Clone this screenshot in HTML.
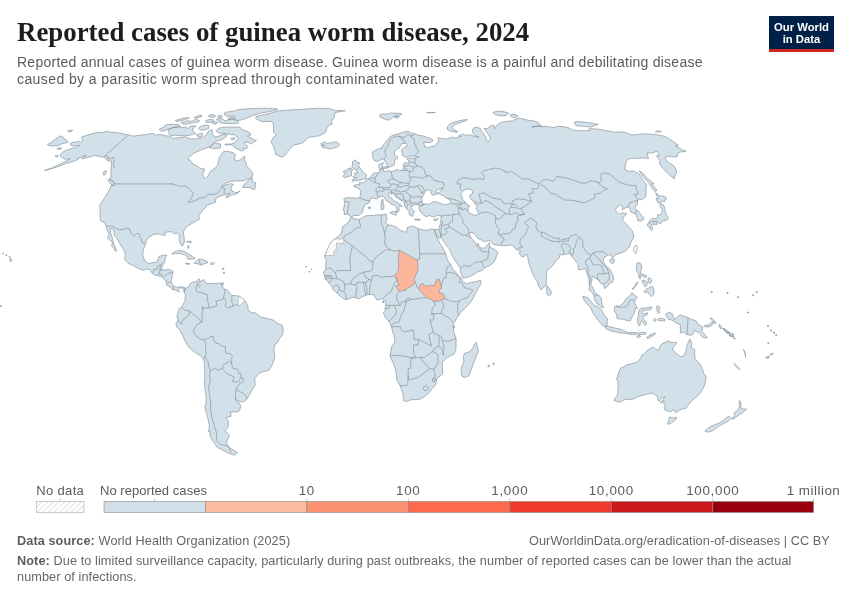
<!DOCTYPE html>
<html><head><meta charset="utf-8">
<style>
html,body{margin:0;padding:0;background:#fff;}
body{width:850px;height:600px;position:relative;overflow:hidden;font-family:"Liberation Sans",sans-serif;}
.t{position:absolute;white-space:pre;line-height:1;will-change:transform;}
#title{left:17px;top:17.3px;font:bold 26.85px "Liberation Serif",serif;color:#1d1d1d;}
.sub{left:17px;font-size:14px;color:#5b5b5b;letter-spacing:0.25px;}
.lg{font-size:13px;color:#5b5b5b;}
.ft{font-size:12.7px;color:#666;left:17px;letter-spacing:0.09px;}
.ft b{color:#5e5e5e;}
#logo{position:absolute;left:769px;top:16px;width:65px;height:36px;background:#002147;}
#logo .bar{position:absolute;left:0;bottom:0;width:65px;height:3px;background:#ce261e;}
#logo .l{position:absolute;width:65px;text-align:center;color:#fff;font:bold 11.3px "Liberation Sans",sans-serif;line-height:1;will-change:transform;}
svg{position:absolute;left:0;top:0;}
</style></head><body>
<div class="t" id="title">Reported cases of guinea worm disease, 2024</div>
<div class="t sub" style="top:54.75px">Reported annual cases of guinea worm disease. Guinea worm disease is a painful and debilitating disease</div>
<div class="t sub" style="top:72.05px;letter-spacing:0.41px">caused by a parasitic worm spread through contaminated water.</div>
<div id="logo"><div class="l" style="top:6px">Our World</div><div class="l" style="top:17.8px">in Data</div><div class="bar"></div></div>
<svg width="850" height="600" viewBox="0 0 850 600" style="z-index:1">
<defs><pattern id="mh" patternUnits="userSpaceOnUse" width="3.5" height="3.5" patternTransform="rotate(45)"><rect width="3.5" height="3.5" fill="#fff"/><line x1="0" y1="0" x2="0" y2="3.5" stroke="#d8d8d8" stroke-width="1"/></pattern></defs>
<path d="M91.5,133.8L97.4,132.4L102.3,132.3L107.5,131.2L110.2,132.3L113.8,132.3L117.9,132.9L123.3,133.8L128.5,134.9L133.6,136.2L138.8,135.3L143.5,134.9L148.7,134.0L153.6,133.4L154.9,135.1L160.6,134.5L165.9,135.8L170.3,136.4L173.4,138.4L181.0,137.5L185.2,136.6L189.9,138.9L196.7,138.9L201.0,137.7L201.3,138.4L206.3,135.1L208.7,130.8L212.1,129.7L212.5,134.0L214.9,137.3L221.6,135.1L224.1,134.0L227.1,135.5L222.6,139.5L215.0,141.8L210.9,146.3L207.5,147.5L201.4,149.8L193.6,153.3L188.4,158.1L187.9,159.7L189.9,160.0L192.9,164.1L196.0,165.3L200.0,168.2L204.8,169.0L202.8,173.9L203.9,177.7L205.5,178.4L208.5,175.2L210.3,171.4L215.6,167.7L217.5,165.3L218.6,160.5L219.6,156.9L223.7,151.4L228.2,151.4L233.0,152.6L235.6,154.5L234.1,159.3L237.0,160.9L240.4,159.7L242.1,158.1L244.8,156.2L244.7,160.5L246.0,161.7L246.4,165.3L248.2,167.7L251.6,171.4L253.2,175.2L250.3,177.9L243.4,180.9L235.4,180.9L230.2,181.4L225.5,183.2L221.1,187.0L224.9,185.0L230.4,183.7L233.7,184.4L231.3,186.7L231.2,189.0L232.0,191.0L234.7,192.3L237.7,192.6L240.2,191.0L236.3,193.9L231.7,195.1L226.3,198.0L226.5,195.4L230.2,193.3L227.0,193.6L224.6,194.6L220.5,195.9L217.0,197.7L215.2,200.0L215.9,202.3L212.4,203.4L207.0,205.2L206.4,205.7L205.6,207.8L203.0,209.8L202.4,211.4L199.8,214.2L198.7,215.0L199.4,219.2L196.6,220.7L193.0,222.8L189.9,224.6L185.7,227.5L183.4,231.7L184.0,236.9L184.5,241.5L183.0,245.4L181.4,245.7L180.2,243.1L179.1,239.5L179.4,235.8L177.3,233.0L174.1,233.7L172.0,231.9L168.8,231.7L165.3,232.4L165.0,235.6L162.4,235.0L158.3,234.0L153.8,234.3L148.5,237.6L146.0,240.8L145.7,243.6L143.8,248.6L142.7,253.0L143.4,257.2L144.9,261.1L147.6,262.9L148.6,263.7L152.8,262.6L156.3,262.4L158.0,259.5L158.9,256.4L163.4,255.1L166.7,255.1L165.1,259.0L164.2,262.9L162.7,265.5L161.3,269.9L163.8,269.9L169.5,269.4L173.1,271.7L172.1,275.9L171.5,279.8L171.3,282.4L172.8,285.0L176.1,287.6L179.6,286.8L184.1,287.1L185.4,288.4L184.0,290.2L183.1,289.2L180.7,287.6L178.5,289.7L179.3,291.8L175.5,290.2L172.5,289.4L171.0,287.6L168.1,285.5L166.6,285.3L166.5,282.4L163.0,277.4L161.3,276.7L158.6,275.9L154.3,274.8L152.4,273.3L149.2,269.4L147.2,268.9L143.2,270.2L138.6,268.6L133.4,265.5L128.2,263.4L124.9,259.5L124.6,257.7L125.4,255.1L124.8,251.9L122.1,247.0L118.9,242.1L116.9,238.4L114.2,235.6L113.9,229.8L110.7,228.3L110.5,233.0L112.3,237.4L113.7,243.4L115.6,248.0L116.9,250.6L115.7,251.4L113.4,247.8L111.6,246.0L112.6,242.3L108.7,239.2L107.4,237.4L109.2,234.3L106.7,229.0L106.3,226.4L104.7,222.5L100.7,221.0L100.1,215.8L100.2,212.7L99.9,207.5L99.5,205.9L103.3,199.8L108.9,191.0L111.0,185.5L114.3,185.7L115.0,183.9L113.5,181.4L109.6,179.4L111.0,176.2L111.0,170.2L111.4,165.3L111.4,161.2L107.9,160.9L105.2,158.1L102.7,156.9L98.6,156.4L95.1,155.4L89.8,156.9L84.8,158.1L81.5,158.8L86.4,155.2L83.0,156.4L77.8,158.5L78.5,158.8L75.6,160.6L72.1,161.8L66.0,163.5L58.5,166.5L52.0,168.5L44.4,170.5L52.5,167.8L58.5,164.7L62.1,162.9L66.8,160.6L70.3,158.8L66.8,159.1L63.8,158.8L62.1,157.6L60.6,156.5L60.3,154.7L61.5,152.9L64.4,151.2L68.5,149.4L72.6,148.2L75.6,147.6L78.5,146.5L79.7,145.4L76.2,145.6L72.6,145.9L70.6,145.3L70.4,143.5L72.6,142.4L76.2,141.8L79.7,141.5L80.9,142.4L82.6,140.9L82.1,138.8L81.5,137.1L85.6,135.6Z M185.4,288.4L188.7,286.6L190.1,283.7L192.4,282.4L195.9,281.6L199.1,278.7L200.1,280.3L199.1,282.4L202.4,280.8L203.4,279.3L206.8,283.7L211.9,283.4L216.0,283.4L220.6,283.2L222.1,285.5L223.6,288.6L227.6,290.2L231.6,295.4L236.7,295.7L239.2,296.2L243.5,299.0L245.5,300.9L248.0,306.6L248.0,309.7L251.4,312.8L254.9,312.6L260.7,317.0L267.6,318.6L273.4,320.1L278.1,323.8L282.2,325.1L283.2,329.7L282.6,334.4L279.5,338.6L276.9,343.3L274.3,345.4L274.0,350.6L274.8,357.3L273.3,362.0L270.9,367.2L268.6,370.6L263.1,371.6L258.7,373.5L254.7,378.7L255.2,385.2L252.6,389.1L250.0,394.0L248.2,396.9L246.5,399.5L243.9,401.8L241.1,401.8L237.3,400.5L235.5,399.0L236.1,401.0L239.1,402.9L240.7,405.7L239.8,410.4L237.1,411.9L230.3,411.9L231.2,416.3L225.9,417.6L228.4,421.2L228.2,426.9L224.8,431.0L229.6,435.0L226.9,440.9L226.8,444.6L228.7,446.4L228.6,447.1L237.5,452.6L234.7,455.3L228.6,453.3L219.0,448.1L216.9,446.9L212.6,440.6L209.9,435.5L210.0,430.5L208.6,432.0L209.4,425.3L208.1,419.7L206.7,413.8L204.8,407.8L206.0,403.4L206.2,396.9L205.0,389.1L204.5,383.9L204.9,376.1L204.7,370.9L204.3,363.0L203.6,358.9L200.6,356.0L194.5,352.1L189.1,347.4L185.7,342.2L182.6,335.5L179.7,329.7L176.4,326.9L176.0,323.2L178.3,319.9L176.8,316.7L178.6,309.4L179.5,308.4L181.4,307.4L184.7,301.4L185.0,300.1L185.4,294.1L183.9,292.3L184.0,290.2Z M282.3,157.3L275.7,154.5L274.3,148.6L273.0,145.2L271.0,141.8L273.4,137.3L276.6,135.1L273.6,132.7L273.5,129.7L273.4,124.5L271.5,121.5L261.6,121.5L255.7,118.5L256.0,116.6L263.6,114.8L270.9,113.0L278.5,110.9L287.4,110.1L301.7,109.3L318.7,108.1L329.3,108.5L335.5,110.5L345.4,110.8L335.0,112.5L334.3,116.7L333.8,118.8L331.7,120.0L332.1,124.2L329.2,125.0L326.7,128.3L325.8,132.5L323.3,133.8L319.2,135.8L308.3,137.5L302.6,142.9L298.8,144.0L293.2,145.2L289.0,149.8L285.7,154.5Z M216.2,130.6L219.0,128.1L224.6,127.1L232.5,127.0L240.0,127.2L242.0,129.8L246.0,131.0L250.0,133.0L250.8,135.0L247.5,136.2L251.0,138.0L255.0,140.0L256.5,140.5L253.0,142.5L250.5,144.2L248.0,142.2L245.0,142.0L244.5,143.5L247.0,145.5L247.5,147.5L245.0,149.0L243.0,148.5L243.5,150.5L241.5,151.0L237.5,149.0L235.0,148.0L233.5,146.0L231.5,145.0L228.0,144.8L225.0,145.0L225.0,144.2L228.0,144.0L231.5,144.0L233.5,143.0L236.5,141.0L238.5,138.5L235.5,135.5L234.0,134.8L225.0,133.5L221.8,133.4L217.6,132.7Z M220.5,147.9L213.8,148.6L209.3,147.5L214.2,142.9L220.4,144.0Z M242.7,187.5L249.4,187.5L253.8,189.8L256.0,187.7L255.1,185.2L255.8,182.7L252.1,181.7L252.5,177.4L248.6,180.2L243.4,185.2Z M324.3,147.7L330.3,148.9L337.7,146.8L339.6,144.7L337.6,142.4L334.8,141.8L331.2,142.7L327.6,143.4L324.4,142.0L320.6,144.0L324.6,145.6L321.1,145.6L323.0,147.7Z M171.6,254.0L173.9,251.9L178.6,250.6L183.1,250.9L187.3,253.2L192.6,256.4L195.3,258.5L192.3,259.2L187.7,259.2L188.0,257.2L184.8,255.1L179.4,253.2L176.0,253.8Z M194.3,263.1L198.4,259.2L202.4,259.2L206.8,261.1L208.0,262.6L204.3,263.7L200.9,265.2L198.5,263.9L194.3,263.4Z M185.5,263.1L189.9,263.7L188.7,264.4L186.1,263.9Z M210.7,262.9L214.3,263.1L214.0,264.2L210.6,264.2Z M113.8,185.5L111.1,184.4L107.6,179.9L109.8,179.2L113.4,181.7L114.3,184.2Z M10.4,258.2L12.1,259.8L11.8,260.8L10.0,261.8L9.8,259.8Z M67.6,131.0L70.0,130.2L72.6,130.3L71.5,131.5L68.5,131.8Z M56.8,148.5L59.0,147.6L61.8,148.2L60.5,149.4L58.0,149.3Z M55.0,156.2L56.5,155.4L58.3,155.8L57.5,157.0L55.6,157.0Z M231.0,138.5L233.0,137.8L235.5,138.3L234.0,139.8L231.5,139.5Z M103.3,172.5L105.0,170.5L106.5,171.0L105.5,174.0L103.8,175.5Z M350.5,217.9L348.4,222.5L346.6,223.6L342.8,226.4L341.6,231.7L342.0,231.9L338.8,236.3L334.3,239.2L330.8,242.8L327.5,249.3L324.8,255.3L324.7,256.9L326.3,260.3L325.8,264.2L325.6,269.4L323.3,272.8L324.8,275.9L325.0,279.0L327.7,281.1L329.5,283.7L331.8,286.3L332.9,289.2L335.6,292.0L337.2,293.3L338.4,294.6L342.5,298.0L345.7,299.7L351.7,297.7L354.0,297.2L358.4,298.7L362.8,296.6L366.0,295.1L369.5,294.4L371.1,294.4L373.6,294.6L376.6,299.8L377.3,299.8L380.5,299.3L382.3,298.3L384.0,300.6L385.6,300.6L385.8,304.5L385.1,308.4L384.9,310.5L383.3,312.8L385.4,317.5L388.6,320.9L390.4,323.5L391.5,326.9L393.1,333.1L393.6,333.9L394.9,339.6L393.9,343.8L391.8,346.1L390.1,355.2L390.1,356.0L393.6,364.3L395.9,370.6L396.8,380.0L397.0,380.2L399.9,385.4L402.9,393.0L403.4,399.5L403.5,400.5L406.7,401.6L411.2,399.7L419.1,399.5L424.3,396.9L429.4,392.5L431.9,388.8L435.3,385.2L436.9,378.7L443.0,373.5L442.8,373.2L442.4,365.6L442.1,362.5L447.1,357.6L454.3,353.9L455.9,350.0L456.1,338.3L453.6,331.8L453.6,328.7L453.0,324.0L454.7,321.7L457.3,317.0L460.1,313.6L461.2,312.1L465.8,307.1L467.6,305.8L472.6,299.3L475.9,292.8L479.2,286.3L480.9,284.0L480.8,280.3L475.6,281.6L467.6,283.4L466.5,284.0L462.5,281.1L461.2,278.5L458.1,275.1L454.5,270.7L453.3,270.4L450.7,264.2L447.8,260.3L447.5,260.0L445.6,253.8L443.3,248.8L440.0,243.4L437.9,239.5L435.4,233.2L434.4,229.6L431.5,228.8L429.2,229.8L425.0,230.4L418.7,228.8L416.0,227.5L412.6,225.7L407.4,227.5L406.4,232.2L404.1,231.9L399.6,229.8L396.6,227.0L392.2,225.4L388.4,224.9L385.5,223.1L385.3,222.8L387.3,219.4L385.9,215.3L386.9,214.5L385.2,214.2L384.3,214.0L381.8,215.0L377.2,214.7L374.0,215.5L369.7,215.3L365.4,216.0L361.9,218.1L358.5,219.7L351.8,217.6Z M434.4,229.6L438.6,229.6L439.7,225.7L440.7,222.8L440.9,218.6L441.4,215.8L439.9,215.8L437.7,215.3L433.6,217.1L429.2,215.3L427.0,216.8L423.6,215.3L421.9,213.5L420.0,210.9L419.0,208.3L419.1,206.7L421.5,205.7L424.5,204.4L424.3,204.4L420.4,205.4L418.7,205.4L417.2,204.7L414.0,204.9L412.0,206.2L411.3,205.7L411.7,205.4L411.3,207.5L412.3,209.6L414.7,211.6L414.1,212.4L413.1,213.7L412.9,216.0L411.6,216.3L410.0,215.3L408.8,212.7L409.5,211.4L407.5,210.1L406.2,208.0L404.4,205.9L404.3,202.3L402.7,201.0L401.2,200.3L397.4,198.0L395.5,196.7L393.2,194.1L392.9,193.3L391.6,194.4L391.6,192.6L388.6,193.1L388.7,195.6L391.4,197.7L393.7,201.0L397.3,202.1L398.9,204.1L401.2,205.4L402.5,206.7L399.7,205.9L398.6,207.8L399.8,209.6L397.8,212.2L396.7,212.2L396.9,208.5L396.4,207.0L394.6,205.4L393.3,204.9L390.7,203.9L388.9,202.3L386.3,200.5L385.2,199.2L384.7,197.7L382.3,195.9L379.9,196.9L378.8,197.2L376.8,199.0L374.5,198.5L372.6,198.0L369.9,199.2L369.7,200.8L370.0,202.1L367.9,203.4L365.1,204.4L363.2,208.3L362.6,208.3L363.7,210.1L362.2,211.4L361.7,213.2L359.1,215.3L358.5,215.5L353.7,215.5L351.6,217.1L350.3,216.8L349.4,215.3L347.3,214.2L344.1,214.7L344.4,210.9L343.1,210.3L344.1,207.0L344.4,204.4L344.9,203.9L344.5,201.6L343.8,199.2L345.9,197.7L348.7,197.7L351.2,197.7L355.3,198.0L359.5,198.2L360.3,195.4L360.8,192.3L360.8,191.0L358.8,188.8L357.1,187.7L354.1,186.7L353.5,185.5L357.2,184.4L360.0,185.0L359.4,182.2L360.8,182.9L363.4,182.7L366.2,180.9L366.4,179.2L369.2,178.2L371.1,176.7L372.4,174.2L374.0,172.9L376.9,172.9L379.8,172.4L379.9,170.7L378.8,167.7L378.8,164.6L383.2,162.4L382.6,165.3L382.7,166.0L382.3,168.5L383.5,170.2L383.0,170.7L384.6,171.4L386.7,170.9L389.4,170.7L391.0,171.7L394.2,170.7L397.0,169.5L399.4,170.5L401.7,170.0L402.7,169.2L403.8,167.3L403.0,164.6L403.8,163.4L405.7,162.4L408.7,164.1L408.9,160.9L406.8,158.8L409.0,158.3L415.0,158.1L418.9,157.1L416.5,156.4L411.8,155.9L409.2,156.4L405.5,157.3L402.4,155.4L402.3,153.3L401.5,151.0L401.8,149.6L404.8,147.3L407.7,145.2L405.8,143.4L402.1,143.4L401.9,143.8L400.5,146.1L399.2,147.9L396.3,149.8L394.4,151.2L394.5,153.8L394.5,155.2L397.2,156.4L397.8,158.1L396.8,158.5L394.6,160.2L394.3,162.9L394.4,164.8L392.8,166.0L390.9,166.5L388.2,168.0L387.6,166.0L385.6,162.4L384.1,159.3L383.1,158.3L382.8,159.3L380.9,159.5L378.2,161.4L374.5,160.9L373.7,159.5L372.4,156.9L373.0,155.9L372.3,153.3L372.6,151.7L374.9,150.7L377.5,149.3L380.1,148.2L381.8,148.9L382.4,146.1L384.9,143.4L386.4,140.6L387.8,140.0L389.4,137.3L390.9,136.2L394.7,134.7L398.0,134.0L401.8,132.5L405.4,131.6L409.1,131.9L412.9,133.8L414.4,133.4L418.3,135.3L423.5,136.0L431.2,138.9L433.5,140.6L430.1,142.7L423.7,142.2L424.5,146.3L428.8,147.7L431.8,146.1L434.5,146.3L437.5,142.2L439.1,141.8L437.9,137.7L441.2,138.4L445.7,139.1L452.6,137.3L455.4,138.0L460.6,136.4L458.8,135.9L463.5,134.1L465.3,135.3L469.4,134.7L474.1,136.1L478.8,137.3L475.3,135.3L472.9,132.9L472.4,130.0L474.1,127.6L477.6,127.4L480.6,128.8L481.2,130.6L483.5,133.5L485.3,136.5L486.5,139.4L487.1,141.8L488.2,142.4L489.4,140.0L490.4,138.2L488.8,135.3L487.1,132.9L485.3,130.6L484.1,128.2L487.1,128.8L490.6,125.9L494.1,125.3L494.7,128.8L495.3,127.6L498.2,124.1L500.0,122.9L501.7,122.3L506.7,121.3L512.4,120.9L514.7,119.7L518.5,118.1L522.5,118.7L527.3,120.1L533.7,120.9L537.8,122.3L542.4,126.6L537.7,126.0L531.9,127.2L537.7,126.0L542.4,126.6L546.9,126.4L553.1,127.6L557.9,126.4L563.8,126.6L568.6,127.8L573.1,130.2L578.0,130.8L582.6,130.6L589.4,130.8L588.9,128.7L598.4,129.1L607.3,130.8L613.2,132.1L618.6,131.9L625.0,132.3L631.2,134.9L635.9,134.7L641.6,134.0L645.4,133.8L653.8,134.5L660.2,135.3L665.3,136.4L668.4,138.4L671.8,140.6L675.2,142.9L678.2,145.0L677.7,145.9L675.1,145.9L682.4,149.8L686.1,151.4L680.8,151.9L677.8,153.1L677.1,156.9L668.0,156.2L664.8,157.3L667.1,161.7L674.2,166.0L676.4,170.2L676.3,173.9L674.6,175.2L674.5,178.9L669.7,175.2L662.3,167.7L659.0,162.9L660.5,161.7L656.4,155.7L659.2,155.7L657.0,151.0L653.0,152.8L647.0,153.1L648.6,158.5L641.9,157.8L637.5,158.5L631.7,158.3L628.1,159.3L626.3,161.2L625.5,165.3L624.5,169.5L629.2,171.4L633.6,170.9L639.1,173.9L641.3,177.7L646.6,185.2L645.9,189.0L645.9,196.7L641.6,199.8L638.8,199.0L637.5,201.0L637.4,204.4L635.2,207.0L635.2,209.0L638.5,211.4L643.3,217.3L643.5,219.7L640.8,221.0L638.2,221.0L637.0,217.3L635.9,214.0L632.8,212.9L630.6,211.9L629.9,208.3L627.7,207.2L625.1,208.0L623.5,209.0L622.3,210.1L622.8,208.0L622.3,205.9L619.6,204.7L617.4,207.5L614.8,209.6L617.5,212.2L619.5,214.2L622.4,212.7L626.8,213.7L623.8,216.8L623.5,217.1L622.5,220.5L627.0,224.6L629.2,227.7L632.1,230.4L633.0,233.0L633.4,233.5L633.4,237.6L632.1,240.2L630.7,243.4L629.3,247.3L628.4,247.3L625.6,251.2L620.8,253.0L619.3,253.2L615.1,255.1L613.2,257.7L612.6,258.2L611.0,255.1L608.2,254.8L605.2,256.9L604.5,256.6L603.2,261.6L605.4,265.5L609.8,269.1L612.9,275.1L613.6,277.4L613.1,281.6L608.7,284.0L607.7,286.3L604.5,288.6L603.7,285.0L602.5,283.7L600.6,283.4L598.2,279.3L594.4,278.0L594.0,276.1L592.0,276.4L592.1,279.8L590.8,284.5L593.4,288.9L594.6,292.3L598.2,294.9L598.6,295.1L601.3,298.3L601.7,303.7L603.6,307.4L601.8,307.6L599.4,305.3L596.6,303.5L594.2,298.8L594.0,295.1L589.6,289.7L589.2,290.2L589.3,285.0L589.1,279.8L586.8,273.0L585.5,268.1L581.0,269.9L578.2,269.4L577.8,263.4L575.1,260.3L572.2,257.2L571.0,255.1L570.3,253.0L567.5,253.8L564.2,254.5L559.7,255.1L559.6,257.7L556.3,260.3L554.0,263.7L550.6,267.8L546.4,270.7L546.7,276.9L546.1,281.1L546.5,284.2L544.6,286.8L542.9,288.1L541.3,289.9L538.6,286.3L538.3,285.0L536.7,280.6L534.4,277.4L532.1,272.0L530.0,266.8L528.4,261.6L527.9,257.7L527.2,255.1L526.2,254.0L523.8,256.9L521.5,256.4L518.9,253.0L521.0,251.7L517.4,249.9L515.0,248.6L513.6,246.5L512.3,244.9L507.9,245.4L502.3,245.7L501.4,245.4L497.7,245.2L493.2,244.4L491.2,241.3L488.9,240.2L485.0,241.8L480.3,239.5L477.9,238.4L476.1,236.1L476.0,235.6L473.9,233.0L471.2,232.4L469.3,233.2L469.7,234.8L471.2,238.2L473.7,240.8L475.5,242.8L476.5,246.0L477.2,246.5L477.8,243.1L478.9,245.4L479.1,247.3L481.2,248.0L484.6,248.0L485.4,247.3L487.2,245.2L488.6,243.4L489.3,242.3L489.5,245.4L490.3,247.3L494.8,249.6L498.1,252.5L496.2,256.4L496.1,257.9L494.3,261.6L491.6,264.2L489.0,266.0L486.1,266.8L482.3,270.4L477.4,272.0L475.4,273.3L471.8,275.6L466.2,277.7L462.8,278.0L461.0,273.3L460.4,270.7L460.0,267.3L457.5,264.2L451.8,255.1L449.9,249.9L447.4,246.5L444.9,243.4L441.6,238.2L440.8,234.3L440.3,237.9L439.6,238.7L437.7,236.9L435.4,233.2Z M351.8,181.2L356.3,180.7L361.2,179.7L365.8,178.7L366.6,174.7L363.6,172.9L362.7,171.4L360.2,168.2L359.2,166.5L358.3,165.5L359.7,162.9L356.7,162.4L355.8,160.2L353.9,160.2L352.4,161.9L352.6,165.3L351.4,166.5L352.9,167.7L353.8,169.2L356.5,169.5L356.8,171.4L357.4,172.9L354.3,173.2L355.2,174.4L354.8,175.7L352.8,176.9L354.9,177.7L356.9,177.9L354.3,178.9L352.9,179.2Z M351.4,175.9L351.6,171.7L352.6,170.0L351.1,168.2L348.8,168.2L346.8,169.7L346.6,170.9L343.7,171.2L343.6,172.7L345.6,173.7L342.7,176.2L344.5,177.4L347.2,176.9L349.4,176.2Z M389.9,212.7L391.7,211.6L396.7,211.4L395.8,215.5L394.1,214.7L390.3,213.2Z M381.2,209.6L383.7,209.3L384.0,204.7L382.7,203.6L380.6,204.7L381.3,207.2Z M381.4,203.1L383.1,203.4L383.1,199.5L382.7,199.2L381.3,200.8Z M414.3,219.2L420.3,219.2L420.0,219.9L417.2,220.2L414.5,219.4Z M433.4,219.9L435.1,221.0L437.2,220.2L438.2,218.1L436.0,219.2L434.6,218.9Z M384.4,168.2L387.2,168.2L387.3,166.5L385.2,166.5L384.1,167.3Z M382.1,168.5L384.0,168.7L383.5,167.5L382.2,167.7Z M546.9,285.5L548.3,287.6L550.0,289.2L551.3,291.8L551.2,293.8L549.8,295.1L548.5,295.7L547.3,294.9L546.8,292.8L546.6,290.2L546.7,287.6Z M47.5,144.6L51.0,142.5L55.0,139.4L57.9,137.6L60.9,135.9L62.6,136.5L63.8,138.8L66.8,140.3L68.2,141.8L67.4,142.6L63.8,143.2L61.5,143.8L58.5,145.3L56.2,145.9L52.0,146.0L48.5,145.5Z M476.2,342.2L477.9,348.7L478.1,352.1L476.6,355.2L475.2,359.1L473.0,364.3L470.3,372.2L468.9,375.8L464.3,377.6L461.9,376.1L460.9,369.6L462.2,365.6L463.9,361.7L463.3,356.5L464.6,353.2L469.3,351.9L472.7,348.2L475.0,343.5Z M690.0,338.9L691.8,343.5L691.2,347.4L694.9,350.0L694.6,353.9L694.9,359.1L697.6,361.5L700.3,364.3L702.5,369.6L703.8,373.5L706.3,377.4L704.6,385.4L701.0,391.7L697.9,395.6L693.6,399.0L687.7,405.5L685.8,408.6L681.0,409.3L675.7,412.7L674.2,409.6L670.2,411.9L664.7,409.9L664.0,407.8L665.4,404.7L663.5,403.6L664.0,400.3L661.8,402.6L660.2,402.9L665.1,396.9L661.9,397.7L658.8,401.6L658.0,400.0L657.4,396.4L652.2,393.0L644.4,394.8L637.0,396.9L632.8,399.2L625.1,399.5L619.2,402.3L614.0,400.5L614.7,398.2L616.8,396.4L617.9,393.2L617.8,389.1L618.3,386.5L617.7,381.3L616.5,379.2L618.1,374.8L619.3,370.9L620.8,367.7L621.9,367.7L627.2,364.6L631.7,363.8L637.5,361.7L641.1,357.8L641.5,355.2L644.5,353.9L646.9,350.6L650.6,348.2L653.5,346.9L655.9,349.8L659.1,349.8L660.1,346.1L662.5,343.3L666.7,342.2L667.1,340.7L672.4,342.8L675.9,342.0L676.9,343.3L673.8,346.1L672.6,349.5L675.1,352.4L678.1,354.7L680.0,356.5L683.4,356.5L686.4,350.0L686.8,346.1L688.3,342.2Z M669.6,416.9L672.7,417.9L676.9,417.4L674.7,420.7L670.8,423.3L669.1,424.3L667.6,424.1L668.4,420.7Z M739.5,400.5L741.3,403.4L740.7,406.8L741.5,408.8L745.4,409.1L746.7,409.1L742.7,413.0L739.7,414.3L734.4,418.4L732.1,419.2L731.7,418.4L734.9,415.8L734.4,414.8L734.0,413.0L737.8,409.9L739.3,407.3L739.1,403.4Z M729.2,416.3L731.1,418.4L728.4,421.0L723.8,423.5L718.2,426.4L713.8,430.2L708.8,432.2L704.8,431.0L707.7,428.4L713.2,425.3L719.7,422.8L724.4,419.4L727.4,417.1Z M648.9,222.5L650.9,221.8L654.6,221.2L657.1,221.0L658.4,222.8L660.6,223.8L661.6,221.8L662.6,221.0L665.3,220.7L665.5,219.4L667.3,219.9L668.4,218.1L666.4,215.0L665.3,211.4L664.6,208.3L664.0,205.7L661.3,203.4L659.7,203.9L660.7,207.0L662.2,209.6L661.9,212.2L661.3,214.0L659.4,215.3L657.7,214.0L657.6,217.3L655.9,218.4L651.7,218.6L649.5,221.0Z M658.4,203.1L660.4,202.3L662.3,201.0L664.5,201.8L665.3,199.2L666.9,198.5L664.4,196.4L659.7,195.6L655.5,192.8L656.7,195.4L658.3,198.7L656.0,198.5L656.7,200.5Z M647.0,224.4L648.8,222.8L651.2,223.8L652.7,229.3L651.6,230.4L650.0,229.0L648.9,226.4L647.3,225.7Z M653.2,225.1L654.7,224.4L657.1,224.4L656.9,222.5L654.1,221.5L652.6,222.5Z M654.9,191.6L657.0,190.3L651.7,183.9L654.2,183.9L646.7,177.7L642.8,173.2L639.1,170.7L640.4,172.7L642.6,176.4L648.8,182.7L650.8,186.5Z M633.7,251.2L635.9,254.0L636.9,249.9L636.9,246.0L635.6,245.2L634.1,247.3Z M609.5,261.1L611.9,263.7L614.0,262.4L614.8,260.0L613.6,258.7L610.7,259.0Z M637.1,262.9L640.0,262.9L641.7,265.8L641.2,269.2L640.4,271.7L641.2,273.8L644.2,274.6L646.7,275.8L646.2,277.5L643.8,276.7L641.2,275.4L639.6,275.0L637.9,272.9L636.7,270.8L636.2,267.5L636.7,265.0Z M643.8,291.7L645.8,289.6L648.3,288.3L651.2,286.2L653.3,287.5L654.2,291.7L653.3,295.0L651.2,296.7L649.2,294.2L647.1,291.7L645.0,292.9Z M642.1,280.0L645.0,280.4L647.5,282.5L646.7,285.4L645.0,287.1L644.2,284.6L642.5,282.5Z M632.1,289.2L634.2,286.7L636.7,282.5L637.5,281.7L637.1,283.8L635.0,287.1L632.9,289.6Z M582.6,296.4L587.7,297.5L590.6,301.1L594.8,305.8L597.2,306.3L601.8,309.7L604.1,314.9L607.5,318.8L606.9,326.1L603.7,326.4L598.9,321.4L596.0,317.5L592.6,312.3L590.3,307.1L587.4,304.5L584.3,300.6Z M605.2,326.2L610.0,326.8L615.3,328.1L620.6,329.2L624.8,331.3L628.7,332.6L628.3,333.8L622.7,333.2L617.4,332.2L612.1,331.2L607.0,329.5L605.5,328.0Z M614.5,307.1L615.8,305.8L619.1,306.6L623.6,302.7L625.7,299.0L629.1,296.7L631.9,292.8L634.0,294.6L637.6,297.5L635.4,299.3L634.6,303.2L637.5,308.4L635.2,308.4L634.1,313.6L631.7,317.5L630.4,320.9L627.0,320.6L623.6,319.3L619.0,318.8L617.1,318.6L616.8,314.9L614.5,311.0Z M640.7,308.5L645.0,308.0L651.8,306.9L650.8,309.6L646.0,310.1L642.3,311.2L641.8,312.8L643.9,313.8L647.6,312.8L647.1,314.9L643.4,316.0L642.8,318.1L645.0,320.7L646.5,323.4L645.5,325.5L643.9,323.9L641.8,320.7L640.7,321.8L640.2,325.0L638.6,325.5L637.5,321.8L638.1,316.5L638.6,312.2L639.7,309.6Z M665.2,314.7L668.7,312.1L672.1,313.4L674.2,319.6L680.2,314.9L687.0,317.3L691.5,319.3L696.1,320.9L698.8,325.1L702.9,326.9L701.8,331.3L704.8,334.4L707.4,337.8L702.8,337.5L698.7,332.3L694.3,330.8L692.8,334.4L690.4,335.2L687.0,334.7L683.8,332.1L680.3,332.9L680.4,324.8L675.3,322.5L671.9,320.1L668.5,319.3L665.9,315.2Z M704.6,325.6L708.5,324.8L712.1,321.9L714.0,322.2L711.9,325.3L708.4,327.1L704.5,326.6Z M656.6,306.5L658.5,305.9L660.3,308.0L658.8,309.5L659.8,312.5L658.2,313.3L657.0,310.5Z M646.5,337.5L650.0,335.2L654.0,333.0L655.6,333.5L653.0,335.6L649.5,337.8L647.0,338.3Z M638.2,333.0L642.0,332.4L646.0,332.6L645.5,334.2L641.0,334.6L638.2,334.3Z M636.8,336.0L639.0,335.5L640.7,336.3L639.5,337.6L637.2,337.2Z M629.0,332.8L633.0,332.4L637.0,332.8L636.5,334.3L632.0,334.5L629.0,334.0Z M658.2,318.8L661.0,318.1L665.1,319.5L664.5,321.0L661.0,320.5L658.5,320.5Z M723.2,328.2L730.4,332.9L733.9,336.5L731.6,336.5L725.2,331.8Z M734.5,363.6L739.9,368.8L738.7,369.3L734.8,365.1Z M766.3,356.8L769.3,356.5L768.4,358.4L766.0,358.1Z M743.4,349.5L745.4,353.9L745.5,357.3L745.0,352.6Z M467.1,119.4L462.4,120.0L455.3,121.8L450.6,123.5L447.6,126.5L447.1,129.4L450.6,131.2L457.1,132.4L457.6,131.2L453.2,129.6L452.2,127.3L454.3,124.9L460.0,122.6L466.5,120.6Z M379.4,116.6L384.2,118.9L388.2,120.3L391.6,118.5L394.0,116.4L402.0,114.3L401.0,113.4L391.6,113.0L387.6,113.9L380.5,114.3Z M492.9,112.5L497.0,111.2L503.0,111.5L508.8,113.2L506.0,115.5L500.0,115.9L495.0,114.5Z M510.0,115.0L513.0,114.1L518.2,115.6L516.0,117.6L511.5,117.0Z M575.8,125.6L585.2,126.6L591.3,127.0L598.2,124.3L588.5,122.7L578.8,121.5L574.4,122.1Z M655.4,131.9L656.9,130.8L661.2,131.4L658.2,132.1Z M426.7,112.7L430.3,112.3L435.3,112.4L432.1,112.9Z M710.3,317.8L712.3,318.6L714.5,320.9L716.0,323.0L715.3,323.8L713.3,321.9L711.1,319.6Z M719.1,324.5L720.7,325.6L721.9,327.9L721.1,329.0L719.6,327.4Z M723.2,328.2L725.6,330.0L725.1,330.5L722.9,329.0Z M726.9,331.6L730.4,333.1L729.9,333.6L726.6,332.1Z M729.7,335.2L732.3,336.2L731.8,336.8L729.6,336.0Z M732.2,332.9L734.1,335.2L733.5,335.7L731.9,333.6Z M733.3,337.5L735.5,338.6L735.2,339.1L733.2,338.3Z M769.6,354.7L771.6,353.7L773.4,353.2L772.9,353.9L770.6,355.0Z M9.0,256.6L10.5,256.9L9.9,257.4L9.1,257.2Z M5.8,254.8L7.1,254.8L6.9,255.6L5.8,255.6Z M2.8,253.2L3.9,253.2L3.5,254.0L2.8,254.0Z M305.7,266.5L306.6,266.5L306.6,267.0L305.7,267.0Z M308.9,271.2L309.6,271.2L309.6,272.2L308.9,272.2Z M311.1,268.9L311.5,268.9L311.5,269.6L311.0,269.6Z M187.9,245.7L189.0,245.7L188.6,248.3L187.7,248.3Z M186.7,241.5L189.4,241.5L189.3,242.1L186.7,242.1Z M190.2,240.8L191.2,241.8L190.7,243.4L190.1,242.6Z M221.3,282.9L223.4,282.9L223.3,284.7L221.2,284.7Z M493.0,363.0L494.1,363.0L494.0,364.3L492.9,364.3Z M488.0,365.4L489.4,365.4L489.3,366.7L487.9,366.7Z M222.5,268.1L223.9,268.1L223.8,269.4L222.4,269.4Z M223.5,272.2L224.5,272.2L224.4,273.5L223.4,273.5Z M368.1,207.2L370.7,207.2L370.3,208.8L368.4,208.3Z M453.5,325.8L454.4,325.8L454.3,327.9L453.4,327.9Z M382.6,301.1L383.7,301.1L383.7,302.7L382.6,302.7Z M638.3,275.8L640.0,275.4L640.8,277.1L640.4,278.8L639.2,278.3Z M647.9,278.3L650.0,277.9L651.5,280.0L651.2,282.5L649.6,283.8L648.3,281.7Z M653.4,319.5L655.5,318.6L656.6,319.8L655.5,321.3L653.8,321.0Z M394.1,116.5L396.5,116.2L399.4,116.8L397.5,118.0L395.0,117.8Z M0.2,305.6L1.4,305.6L1.4,306.6L0.2,306.6Z M711.1,291.3L712.3,291.3L712.3,292.3L711.1,292.3Z M726.9,292.5L728.1,292.5L728.1,293.5L726.9,293.5Z M737.4,296.7L738.6,296.7L738.6,297.7L737.4,297.7Z M756.1,291.7L757.3,291.7L757.3,292.7L756.1,292.7Z M752.4,294.7L753.6,294.7L753.6,295.7L752.4,295.7Z M747.6,312.0L748.8,312.0L748.8,313.0L747.6,313.0Z M767.4,325.5L768.6,325.5L768.6,326.5L767.4,326.5Z M770.4,330.0L771.6,330.0L771.6,331.0L770.4,331.0Z M773.4,332.2L774.6,332.2L774.6,333.2L773.4,333.2Z M775.6,334.5L776.8,334.5L776.8,335.5L775.6,335.5Z M767.7,342.7L768.9,342.7L768.9,343.7L767.7,343.7Z M159.1,129.4L162.6,127.6L166.8,124.6L172.6,124.2L178.5,124.6L180.3,126.1L177.9,127.0L172.6,127.6L169.1,129.1L165.6,130.2L161.5,131.4Z M168.5,129.1L172.6,127.8L178.5,126.7L182.6,127.4L185.6,127.0L187.9,128.8L189.7,126.7L192.1,125.8L196.2,126.1L193.2,127.9L192.6,130.8L195.6,133.2L192.6,134.6L187.9,135.5L184.4,135.2L179.7,135.8L175.6,135.2L170.3,135.5L169.1,134.4L168.8,131.4Z M175.3,120.5L179.7,119.1L184.4,117.9L189.1,117.6L188.5,118.5L184.4,119.6L180.3,120.8L176.8,121.4Z M180.9,122.6L184.4,121.4L187.9,120.8L191.5,121.4L193.8,120.2L196.2,119.4L199.7,120.8L198.5,122.0L193.8,122.6L190.3,123.2L185.6,124.4L182.6,123.8Z M194.1,117.6L197.4,116.1L201.5,115.2L201.8,116.4L198.5,117.6L195.6,118.2Z M198.5,127.9L201.5,126.1L205.0,125.2L208.8,125.5L208.5,128.5L205.0,129.7L202.1,130.2L199.7,129.6Z M196.2,134.9L199.7,133.8L202.1,133.2L203.2,134.9L201.5,136.7L198.5,137.3Z M208.2,116.2L210.0,114.7L213.5,115.0L215.6,115.9L214.1,117.4L210.6,117.1Z M217.4,116.5L218.8,115.5L221.5,115.6L222.6,117.1L220.6,117.6L218.2,117.4Z M205.3,121.5L207.1,120.0L210.6,119.4L213.8,120.0L213.2,121.5L210.6,122.4L207.1,122.6Z M212.1,122.6L214.1,121.8L217.1,122.1L217.6,123.0L215.9,124.1L213.2,123.8Z M216.2,119.4L219.4,118.5L223.5,119.4L224.7,120.9L227.6,120.3L230.6,119.1L234.1,118.2L235.3,119.1L237.6,120.9L238.8,122.6L236.5,123.5L231.8,123.7L227.1,123.5L222.4,123.2L219.4,122.6L220.0,121.5L217.6,120.4Z M224.1,113.5L226.5,112.1L230.6,111.4L235.3,110.9L236.5,110.0L241.2,109.4L247.1,108.8L255.0,108.4L265.0,108.2L272.0,108.4L277.5,108.9L277.4,109.7L269.8,111.5L260.6,113.2L253.0,115.5L247.1,117.9L244.1,119.1L241.2,120.0L237.6,120.4L234.1,119.7L230.6,119.4L227.6,119.1L229.4,117.9L232.9,117.4L235.3,116.8L234.7,115.9L230.6,116.2L226.5,116.2L224.7,115.0Z" fill="#d2e0e9" stroke="#7d8891" stroke-width="0.6" stroke-linejoin="round"/>
<path d="M422.4,203.9L424.7,203.9L429.4,204.1L433.2,201.8L437.0,201.8L440.9,203.6L444.4,204.7L447.8,204.4L450.9,202.8L450.4,200.3L446.7,198.2L443.1,195.6L440.4,194.6L438.8,193.6L436.4,194.1L432.7,195.4L430.4,193.1L432.2,191.3L428.1,190.0L426.1,190.3L424.5,193.3L422.8,195.9L421.7,198.5L421.9,201.6Z M435.3,192.6L438.7,193.1L441.0,190.3L443.1,188.5L439.8,189.0L435.6,190.8Z M463.6,190.3L467.3,189.0L471.5,189.5L473.0,193.3L469.5,195.4L470.6,198.7L474.2,201.8L475.1,204.4L477.4,205.4L476.2,208.5L479.2,214.0L475.0,215.5L470.8,213.7L468.4,212.2L468.0,211.1L468.3,206.5L469.9,206.2L467.2,204.4L465.5,202.3L462.5,199.2L461.7,195.4L460.5,194.6Z M197.8,285.0L199.0,284.2L200.0,285.5L199.6,287.1L198.2,286.8Z" fill="#fff" stroke="#7d8891" stroke-width="0.6"/>
<path d="M399.2,250.0L417.6,260.3L418.0,270.2L415.6,275.4L414.3,278.2L414.8,282.4L415.7,282.6L413.0,285.0L409.2,287.6L406.7,288.1L406.0,290.2L402.3,290.5L398.9,291.5L398.2,289.4L395.4,286.3L399.3,285.0L397.6,282.9L397.6,279.8L396.4,277.4L395.7,276.9L394.3,275.4L397.5,272.0L398.5,268.1L398.3,259.0L399.2,250.0Z" fill="#fcb69c" stroke="#7d8891" stroke-width="0.6"/>
<path d="M418.4,288.4L420.8,284.2L422.9,283.7L425.2,286.0L429.8,285.8L431.2,284.7L432.1,285.3L434.4,285.5L436.5,280.0L437.7,279.3L439.3,279.3L441.0,285.0L441.5,286.3L441.3,288.6L439.1,290.2L439.6,292.8L443.1,293.8L444.5,297.2L445.9,299.0L442.4,299.0L441.3,300.1L439.3,301.4L434.6,301.1L434.0,301.6L431.2,299.6L428.9,298.8L426.5,297.5L425.4,296.4L423.1,294.1L419.5,290.2Z" fill="#fcb69c" stroke="#7d8891" stroke-width="0.6"/>
<path d="M128.5,134.9L104.4,156.2L107.9,156.2L107.7,159.3L113.3,157.3L114.0,160.7L113.0,165.1L114.9,166.8L113.6,168.2 M115.0,183.9L171.4,183.9L172.0,182.9L172.0,184.4L175.4,185.0L179.8,186.2L181.7,186.5L185.1,185.7L189.8,189.0L190.2,190.3L191.8,191.6L193.3,193.3L190.8,199.2L188.8,201.0L188.5,202.6L194.4,200.8L198.0,199.5L198.6,198.0L204.3,197.7L208.2,194.4L215.5,194.1L218.2,192.3L220.1,189.8L222.4,188.0L224.1,188.2L224.9,188.8L223.7,192.3L224.8,194.1L224.9,194.6 M106.3,226.4L111.7,225.9L118.4,229.6L124.8,229.6L125.2,228.3L129.0,228.3L131.7,234.0L134.4,235.6L136.5,233.5L138.7,233.5L140.1,237.4L141.4,239.5L141.7,242.3L145.7,243.6 M152.7,273.3L153.1,271.7L154.3,269.1L157.2,269.1L157.6,266.0L160.6,264.7L162.8,262.9 M160.6,264.7L159.9,269.6L162.1,270.2 M159.9,269.6L159.5,273.0L159.0,273.5L157.3,275.4 M159.0,273.5L162.1,274.8L162.4,276.1 M163.5,277.2L166.7,274.8L169.1,273.0L173.3,272.0 M166.8,282.1L170.6,282.6L171.3,282.6 M172.7,290.2L173.6,286.0 M184.1,292.3L185.4,288.4 M198.8,259.2L200.3,264.2 M197.7,281.9L196.9,285.0L195.8,287.6L196.8,291.8L202.0,292.8L207.9,294.9L207.1,299.3L208.2,302.7L208.8,306.3L209.0,307.9 M209.0,307.9L203.0,308.1L202.1,306.6L203.0,312.3L201.9,313.6L202.3,321.9 M202.3,321.9L200.4,320.9L197.3,317.3L193.6,314.4L189.9,311.3 M189.9,311.3L184.8,310.0L181.6,307.4 M189.9,311.3L189.2,314.9L185.8,317.5L182.9,319.9L181.4,324.0L178.8,322.2L178.3,319.9 M209.0,307.9L215.5,306.3L217.1,305.3L215.8,300.9L218.6,300.6L222.8,299.3L223.5,297.5 M223.5,297.5L225.4,288.9 M223.5,297.5L225.5,299.3L225.9,302.4L225.2,306.1L227.7,307.9L233.0,306.1 M233.0,306.1L231.9,301.9L231.8,295.7 M233.0,306.1L236.5,304.5L238.6,305.5 M202.3,321.9L197.5,324.0L195.3,327.9L193.1,330.5L195.7,335.7L197.6,337.0L201.4,339.6L203.7,339.5 M203.7,339.5L206.0,343.5L205.7,346.1L205.6,350.6L206.1,353.4L205.2,356.5 M205.2,356.5L203.4,358.8 M205.2,356.5L206.7,360.4L208.2,361.7L208.4,365.4L210.2,370.3L211.8,370.3 M211.8,370.3L214.3,368.3L218.4,370.3L221.5,368.3L222.0,368.8 M222.0,368.8L224.1,364.3L229.5,361.2L231.4,362.5L231.6,363.5 M231.6,363.5L231.7,358.1L232.5,356.5L230.2,353.4L226.1,353.4L225.2,350.3L225.4,346.7L221.7,346.1L219.0,343.8L215.8,343.3L213.5,339.6L213.4,336.5L210.4,336.8L207.3,338.9L203.7,339.5 M231.6,363.5L232.8,368.5L236.9,369.0L237.9,369.8L238.7,373.5L241.2,373.7L240.9,377.6 M222.0,368.8L226.1,372.9L230.8,375.5L234.1,376.8L232.5,381.8L238.3,382.0L240.9,377.6 M240.9,377.6L242.8,377.9L243.4,379.4L243.2,381.5L239.0,384.1L235.8,389.6 M235.8,389.6L239.7,391.4L241.6,392.5L246.1,395.8L246.6,398.7 M235.8,389.6L235.5,395.6L235.8,399.2 M210.2,370.3L209.4,374.8L210.5,381.3L208.5,386.5L209.4,394.3L210.3,399.5L210.7,404.7L210.7,409.9L211.9,417.6L214.2,425.3L216.2,431.7L216.7,436.8L216.6,440.6L220.1,444.4L226.2,445.6L228.6,447.1L231.1,452.8 M359.3,219.7L359.5,222.5L361.0,226.4L355.3,228.8L352.2,231.7L343.9,236.3L343.9,239.0 M343.9,240.0L352.4,246.0 M352.4,246.0L349.7,259.0L350.7,270.7L337.2,270.4L335.4,272.8 M352.4,246.0L365.7,256.4L370.5,261.6L372.8,261.1 M372.8,261.1L376.8,256.4L385.7,249.9L390.2,249.8 M390.2,249.8L385.7,246.0L384.5,242.1L385.3,238.2L384.5,233.0L385.8,231.7 M384.5,232.4L383.0,227.7L381.1,222.5L381.2,218.6L381.8,215.0 M384.5,232.4L385.7,229.0L388.4,224.9 M390.2,249.8L394.8,251.4L399.2,250.0 M417.6,260.3L417.6,259.0L419.8,259.0L419.7,253.8 M419.7,253.8L418.6,233.0L418.1,228.8 M419.7,253.8L446.5,253.8 M415.7,282.6L417.2,287.6L418.4,288.4 M441.5,286.3L441.9,283.4L443.6,278.2L445.9,278.0L446.6,273.8L446.4,273.5 M446.4,273.5L446.5,269.9L447.4,266.8L450.9,264.2 M446.4,273.5L449.8,272.2L452.3,273.0L454.8,273.3L458.9,277.2L460.3,278.5 M459.1,282.4L460.3,278.5 M461.6,282.4L459.1,282.4 M461.6,282.4L464.3,287.6L473.3,290.2L466.8,298.0L462.3,299.3L459.7,300.9 M459.7,300.9L455.4,301.6L452.2,301.6L446.1,299.3L445.9,299.0 M459.7,300.9L457.7,303.7L457.7,313.4L459.1,315.4 M441.5,300.1L442.5,301.9L443.9,306.8L441.6,311.0L441.6,313.6 M441.6,313.6L450.1,318.8L453.5,323.2 M434.0,301.6L435.4,305.3L432.4,307.6L431.9,311.0L431.5,314.7 M431.5,313.6L441.6,313.6 M431.5,314.7L433.5,313.9L434.2,317.0L433.3,317.3L433.5,320.1L430.7,322.7 M430.1,318.3L430.7,322.7 M430.7,322.7L433.3,332.3 M433.3,332.3L438.8,335.5L441.1,336.0L442.3,340.9L443.4,341.2 M443.4,341.2L449.9,340.9L456.1,338.3 M426.3,297.7L420.8,298.0L415.7,298.8L410.4,299.6L406.1,301.6 M406.1,301.6L401.5,301.9L400.6,305.3 M398.9,291.5L396.6,294.9L396.9,299.6L400.1,305.3 M395.5,277.2L396.7,279.8L394.4,283.4L392.2,288.9L390.4,292.8L387.6,293.8L385.6,295.4L383.0,298.5 M385.8,305.0L389.3,305.3L393.9,305.3L396.9,305.3L400.1,305.3 M389.3,305.3L389.3,308.4L385.1,308.4 M393.9,305.3L396.7,311.0L395.5,314.9L393.2,317.5L388.6,321.2 M406.1,301.6L404.0,311.0L400.6,316.2L399.2,321.4L398.5,322.2L393.6,323.2L391.3,325.8 M391.5,326.9L400.1,326.6L401.6,330.5L404.6,331.8L413.4,330.0L414.4,339.6L418.3,339.6 M418.3,339.6L418.2,344.8L413.6,344.8L413.4,353.2L416.0,356.5 M418.3,339.6L425.5,342.8L431.4,345.9L430.2,340.9L428.9,334.4L433.3,332.3 M438.8,335.5L439.4,338.3L438.5,346.1L435.2,348.0L432.6,351.6 M432.6,351.6L429.1,353.9L424.6,357.6L420.7,357.3 M438.5,346.1L442.0,348.7L443.6,355.5L443.1,351.3L444.3,348.0L442.3,340.9 M432.6,351.6L438.1,354.5L438.0,357.8L438.0,363.0L433.8,369.3 M420.7,357.3L422.2,361.2L425.9,364.3L429.6,368.5 M429.6,368.5L433.8,369.3 M433.8,369.3L435.1,374.8L434.9,377.9L436.7,381.0 M420.7,357.3L416.6,357.8L410.9,358.6L410.6,368.3L408.4,368.3L408.1,375.5 M408.1,375.5L409.1,380.0L413.6,378.7L418.1,377.4L421.6,374.8L425.1,372.2L429.6,368.5 M408.1,375.5L407.7,384.9L403.2,385.9L399.9,385.4 M390.1,356.0L394.0,355.2L405.3,356.3L411.0,357.8L416.0,356.5 M423.1,388.0L425.9,385.7L428.4,387.5L427.3,390.4L424.4,390.6L423.1,388.0 M432.7,378.1L434.8,379.2L434.4,381.8L432.4,381.3L432.7,378.1 M325.6,269.4L330.2,267.8L335.4,272.8 M335.4,272.8L337.1,278.7 M337.1,278.7L331.9,278.0L325.0,279.0 M324.8,275.6L331.7,275.9L331.7,276.4L325.0,276.9 M331.9,278.0L331.9,279.8L328.8,282.6 M337.1,278.7L340.3,280.0L343.8,281.6L344.4,284.5 M332.7,287.6L335.7,285.0L338.0,285.3L339.6,288.9 M339.6,288.9L341.4,291.5L343.7,291.2L344.2,290.2 M339.6,288.9L336.8,293.1 M344.2,290.2L345.1,288.9L344.4,284.5 M343.7,291.2L346.0,295.7L346.0,299.6 M344.4,284.5L349.0,283.7L350.6,284.0 M350.6,284.0L351.3,281.3L353.2,278.5L358.7,274.1L363.7,272.2 M363.7,272.2L371.2,270.9L372.8,268.3L372.8,261.1 M350.6,284.0L356.4,285.3L357.0,282.4L363.2,282.4L365.3,282.4L367.8,281.3L368.7,279.0L365.5,277.2L363.7,272.2 M357.0,286.3L355.9,294.1L356.1,297.7 M363.2,282.4L364.2,286.3L364.6,290.2L366.0,295.1 M365.3,282.4L366.9,287.6L366.9,294.9 M371.5,280.6L369.7,287.6L369.5,294.4 M368.7,279.0L371.5,280.6 M371.5,280.6L372.4,275.9L377.0,275.4L381.5,277.2L386.1,276.4L391.8,276.9L394.3,275.4 M406.1,301.6L406.1,299.8L408.1,297.7L411.6,299.8 M344.5,201.6L346.0,201.6L349.4,202.1L348.7,204.4L348.3,207.8L347.6,211.1L347.3,214.2 M359.5,198.2L364.7,199.8L366.8,200.5L370.0,200.8 M368.2,178.7L371.6,180.7L372.8,181.2L374.9,182.7 M374.9,182.7L376.1,182.7L377.3,183.4L379.8,183.9L378.7,187.5 M378.7,187.5L377.5,187.7L375.7,190.0L375.8,191.0L377.6,191.8 M377.6,191.8L376.9,193.9L377.8,196.2L378.8,197.2 M370.0,177.9L372.2,177.9L374.7,178.4L375.2,179.4 M375.2,179.4L375.8,180.7L374.9,182.7 M375.2,179.4L374.9,176.9L376.6,176.2L377.2,174.9L377.3,173.2 M379.8,169.2L382.3,169.5 M391.0,171.7L391.9,174.9L392.3,177.7L393.0,178.9 M393.0,178.9L391.6,178.9L388.2,180.4L387.4,180.7L388.3,182.2L391.1,184.4 M391.1,184.4L389.7,187.7L387.6,187.5L384.6,187.7L382.8,187.7 M382.8,187.7L380.5,187.2L378.7,187.5 M382.8,187.7L382.6,189.0L384.7,189.5L383.9,190.8L381.7,191.8L380.4,190.5L377.6,191.8 M384.7,189.5L387.7,189.0L388.6,189.8L391.3,190.3 M391.1,184.4L393.5,183.9L397.4,185.0L397.9,186.5L396.8,187.7L396.1,189.3L393.9,190.0L391.3,190.3 M391.3,190.3L391.4,192.6 M391.3,192.8L394.6,192.8L395.5,191.6L397.2,190.3 M393.0,178.9L395.7,179.7L397.2,180.9L401.0,182.7 M401.0,182.7L398.0,185.0L397.4,185.0 M401.0,182.7L404.4,182.9L408.7,183.7 M408.7,183.7L410.1,180.2L411.2,179.2L409.9,177.7 M409.9,177.7L408.9,175.7L410.0,173.7L408.9,171.7 M408.9,171.7L407.3,170.5L401.2,170.5 M407.3,170.5L406.5,168.7L404.1,168.2 M403.5,166.3L408.9,165.5L414.1,167.3 M408.9,171.7L412.7,170.9L414.1,167.3 M408.9,161.9L411.1,161.9L414.9,162.9 M414.9,162.9L417.0,166.0L414.1,167.3 M414.9,162.9L415.0,159.7L415.0,158.1 M414.2,155.7L416.9,153.8L418.9,151.0L416.5,148.2L415.6,145.2L414.4,142.9L414.3,139.1L411.5,137.3L411.0,136.2 M405.3,143.4L404.1,141.8L403.3,139.5L398.4,136.2 M398.4,136.2L400.9,136.9L405.3,137.1L407.7,134.2L411.0,136.2L412.1,135.1 M411.0,136.2L414.4,134.5 M384.0,159.0L386.1,155.7L385.0,153.3L385.1,149.8L387.9,146.3L388.4,143.4L390.5,139.5L393.6,137.3L396.8,136.2L398.4,136.2 M417.0,166.0L421.6,167.0L424.7,170.2L424.9,173.9L427.2,175.7L425.9,176.2 M409.9,177.7L413.6,176.7L418.6,177.4L423.7,178.2L425.9,176.2 M425.9,176.2L430.1,175.7L433.8,180.2L439.3,181.7L443.6,182.7L444.0,186.5L441.2,188.8 M408.7,183.7L408.1,185.5 M408.1,185.5L409.7,186.7 M409.7,186.7L413.8,187.2L417.1,186.0 M417.1,186.0L419.8,185.2L422.5,186.7L424.7,190.3L421.9,192.8L421.3,192.8L420.5,190.0L417.1,186.0 M421.3,192.8L424.5,193.6 M397.9,186.5L401.4,187.0L403.7,186.0L408.1,185.5 M409.7,186.7L407.2,190.0L404.9,191.3 M404.9,191.3L402.3,191.6L400.3,192.1L397.2,190.3 M395.7,194.4L397.3,193.6L402.5,194.1 M402.5,194.1L403.9,198.0L402.0,200.5 M395.8,193.6L396.9,196.2L399.8,199.0L402.0,200.5 M404.9,191.3L407.6,193.6L410.3,195.4 M410.3,195.4L410.1,199.2L410.3,201.0 M410.3,201.0L407.3,201.3L405.1,200.3L404.0,198.7 M410.3,195.4L413.2,197.4L417.3,196.7L420.6,196.7L422.8,197.4 M410.3,201.0L411.7,203.4L414.9,202.8L418.3,203.6L418.8,202.3L422.1,201.8 M411.7,203.4L407.7,204.7L407.2,206.7L405.8,207.8 M404.0,202.1L405.1,200.3L406.5,203.1L407.0,204.7 M418.3,204.9L419.3,202.8 M450.7,203.1L455.1,204.1L458.6,207.8L458.3,211.1L459.7,214.2L454.3,214.2L449.5,215.3L445.2,215.3L442.2,215.3L441.4,217.6 M446.7,198.2L450.9,198.7L455.4,200.0L460.0,202.1L464.2,203.9L465.5,202.3 M455.1,204.1L458.3,203.9L461.5,204.4L460.6,202.8 M458.3,203.9L459.7,205.7L462.5,209.6 M458.6,207.8L462.6,209.8L465.5,208.5L468.0,211.1 M351.2,171.2L349.0,169.2 M359.2,167.0L357.5,169.0 M461.6,190.8L459.9,187.7L461.0,183.9L456.9,183.9L457.9,180.2L463.2,177.7L468.3,178.2L472.7,179.4L478.4,178.7L483.6,179.4L484.5,176.4L481.1,172.7L482.6,171.4L488.6,169.5L495.6,168.0L498.7,168.5L505.9,171.4L505.5,172.7L511.7,171.4L516.1,174.4L522.2,178.9L528.1,178.9L533.3,181.4L539.0,183.7 M539.0,183.7L537.7,189.0L532.4,188.5L533.2,192.8L528.5,194.1L531.7,201.3 M531.7,201.3L524.3,199.5L517.8,198.7L512.2,201.0L512.3,204.4L509.0,203.4L503.9,203.9L501.3,199.5L492.5,198.0L483.7,192.8L478.9,194.1L481.4,203.6L479.3,203.6L474.6,201.6 M481.4,203.6L485.8,200.3L492.0,203.9L495.6,207.0L501.1,210.1L506.3,213.7 M479.2,214.0L482.4,212.4L486.6,212.2L491.2,213.5L495.4,215.8L495.5,218.4L498.5,219.2L501.8,217.3L504.2,214.0L506.3,213.7 M506.3,213.7L509.2,214.2L512.9,214.2L516.7,212.4L519.7,214.7L524.5,214.2 M509.2,214.2L509.8,211.6L508.4,209.6L510.9,207.0L512.3,204.4 M510.9,207.0L520.3,208.5L520.9,208.3 M512.3,204.4L515.4,204.4L518.2,206.5 M531.7,201.3L525.4,205.9L520.9,208.3L524.5,214.2 M524.5,214.2L517.7,216.0L517.9,221.2L516.0,222.5L515.5,225.1L515.6,228.0L513.0,229.0L510.4,233.0L510.0,233.2L500.7,234.5L498.1,233.2 M498.1,233.2L499.4,229.6L496.6,225.9L495.2,222.5L495.9,218.4 M501.4,245.4L501.4,242.1L504.3,240.2L502.9,237.4L499.8,235.6L498.1,233.2 M516.6,249.3L519.4,247.8L522.7,247.5L519.9,243.6L520.3,238.7L523.3,236.9L526.8,231.7L527.2,228.5L528.8,227.0L524.7,222.5L530.2,218.6L532.0,218.6 M532.0,218.6L536.7,222.5L535.9,226.4L537.5,230.4L540.6,232.4 M540.6,232.4L543.4,232.2L549.8,236.1L554.7,238.2L559.4,238.4 M541.2,236.1L548.3,239.7L553.1,241.3L560.2,242.1L559.4,238.4 M561.3,240.0L568.1,238.4 M561.6,241.3L568.7,241.0L568.1,238.4 M568.1,238.4L571.9,235.6L576.1,234.5L579.7,237.6 M579.7,237.6L577.4,240.0L575.8,243.4L575.4,247.3L573.4,248.6L573.6,252.5L572.5,255.8 M564.2,254.5L562.5,247.8L560.9,246.5L562.4,243.4L564.2,243.4L569.5,245.4L570.7,248.6L569.1,251.4L571.7,255.3 M579.7,237.6L583.1,240.8L582.5,246.5L587.7,253.5L591.8,255.1L593.2,252.7L597.6,251.7L603.7,251.7L607.1,254.8 M589.6,258.2L586.4,259.8L585.3,262.9L588.5,268.6L587.6,272.0L590.2,277.2L589.5,285.0 M589.6,258.2L591.8,255.1 M589.6,258.2L591.0,260.3L593.4,265.5L596.6,264.4L601.3,265.5L604.0,272.0L604.3,274.1 M593.2,252.7L596.1,256.4L600.0,260.0L602.9,264.2L606.9,268.1L608.7,272.8 M604.3,274.1L608.7,272.8 M604.3,274.1L598.5,273.5L597.4,275.9L598.0,279.8L599.0,280.8 M608.7,272.8L609.4,279.0L606.3,282.4L603.0,284.0 M593.5,294.1L595.7,295.9L598.2,294.9 M539.9,183.4L546.9,189.0L550.7,193.3L555.4,194.1L564.3,200.0L572.8,200.3L584.5,202.8L589.6,200.5L594.6,198.0L594.6,194.1L600.4,193.3L603.8,190.3L607.5,189.0L602.3,186.7L596.7,181.9 M539.9,183.4L542.7,180.2L547.3,179.4L553.3,181.4L556.5,176.4L565.1,177.7L574.9,180.7L581.4,183.2L586.3,182.9L590.9,180.7L596.7,181.9 M596.7,181.9L599.8,182.7L601.5,180.2L599.9,175.2L602.9,172.7L610.2,174.4L618.7,181.9L626.7,184.7L632.4,185.7L636.1,185.2L636.2,188.2L638.4,194.1L634.1,194.4L637.5,199.5L637.5,201.0 M637.5,201.0L634.9,200.8L632.5,202.1L629.8,202.8L627.7,207.2 M634.1,212.9L635.2,212.4L636.4,211.4L637.9,210.6 M459.7,214.2L461.8,217.6L463.2,219.9L462.5,222.5L465.1,225.1L467.7,227.7L468.5,230.4L469.5,233.0 M454.3,214.2L452.5,216.3L452.5,221.2L448.1,224.1 M448.1,224.1L449.6,227.2L453.6,229.3L462.4,235.0L466.4,235.3L469.3,236.9 M466.4,235.3L468.8,232.7L469.5,233.0 M441.4,221.0L443.0,222.0L441.6,224.4 M441.7,225.9L448.1,224.1 M449.6,227.2L444.7,229.0L447.2,231.7L446.3,233.2L443.1,235.0L440.8,234.5 M440.8,234.3L441.4,229.0L441.3,225.9L441.6,224.4 M438.6,229.6L440.6,234.3 M460.7,268.3L463.3,265.7L468.8,266.3L471.2,265.5L474.5,262.6L481.2,261.6 M481.2,261.6L487.8,259.0L488.5,251.9 M481.2,261.6L484.1,267.6 M479.2,247.8L481.5,251.4L487.6,251.9L488.5,251.9 M488.5,251.9L488.9,248.6L489.8,246.2 M477.2,246.5L478.0,247.3 M469.3,236.9L470.8,236.9 M615.8,305.8L619.1,307.4L622.5,307.1L626.0,307.1L628.2,304.5L629.7,300.1L632.7,299.8L634.1,300.1 M688.1,317.8L687.0,334.7 M650.1,334.4L650.4,335.7 M541.2,236.1L541.8,233.7L542.4,232.4" fill="none" stroke="#7d8891" stroke-width="0.6" stroke-linejoin="round"/>
<path d="M333.8,239.0L343.9,239.0L343.8,243.4L336.4,243.4L336.2,250.0L333.7,251.7L333.9,255.5L324.9,255.5L324.7,256.9L324.8,255.3L327.5,249.3L330.8,242.8Z M238.6,305.5L241.3,305.3L244.4,300.1L243.5,299.0L239.2,296.2L239.0,296.2L237.9,301.9Z M633.7,251.2L635.9,254.0L636.9,249.9L636.9,246.0L635.6,245.2L634.1,247.3Z M734.5,363.6L739.9,368.8L738.7,369.3L734.8,365.1Z M210.7,262.9L214.3,263.1L214.0,264.2L210.6,264.2Z" fill="url(#mh)" stroke="#9aa4ab" stroke-width="0.5"/>
</svg>
<svg width="850" height="600" viewBox="0 0 850 600" style="z-index:2">
<defs><pattern id="hatch" patternUnits="userSpaceOnUse" width="4" height="4" patternTransform="rotate(45)"><rect width="4" height="4" fill="#fff"/><line x1="0" y1="0" x2="0" y2="4" stroke="#dadada" stroke-width="1.6"/></pattern></defs>
<g font-family="Liberation Sans, sans-serif" font-size="13" fill="#5b5b5b" text-anchor="middle">
<text x="60.2" y="494.8" letter-spacing="0.35">No data</text>
<text x="153.5" y="494.8" letter-spacing="0.05">No reported cases</text>
<text x="306.8" y="494.8" font-size="13.4" letter-spacing="0.7">10</text>
<text x="408.3" y="494.8" font-size="13.4" letter-spacing="0.7">100</text>
<text x="509.8" y="494.8" font-size="13.4" letter-spacing="0.7">1,000</text>
<text x="611.3" y="494.8" font-size="13.4" letter-spacing="0.7">10,000</text>
<text x="712.8" y="494.8" font-size="13.4" letter-spacing="0.7">100,000</text>
<text x="813.5" y="494.8" font-size="13.4" letter-spacing="0.5">1 million</text>
</g>
<g stroke="#b0b0b0" stroke-width="0.6">
<line x1="60.2" y1="498" x2="60.2" y2="501.5"/>
<line x1="154.6" y1="498" x2="154.6" y2="501.5"/>
<line x1="813.5" y1="498" x2="813.5" y2="501.5"/>
<line x1="306.8" y1="498" x2="306.8" y2="501.5"/>
<line x1="408.3" y1="498" x2="408.3" y2="501.5"/>
<line x1="509.8" y1="498" x2="509.8" y2="501.5"/>
<line x1="611.3" y1="498" x2="611.3" y2="501.5"/>
<line x1="712.8" y1="498" x2="712.8" y2="501.5"/>
</g>
<rect x="36.5" y="501.5" width="47.5" height="11" fill="url(#hatch)" stroke="#a8a8a8" stroke-width="0.6"/>
<g stroke="#8a8a8a" stroke-width="0.6">
<rect x="104" y="501.5" width="101.3" height="11" fill="#d1dfe8"/>
<rect x="205.3" y="501.5" width="101.5" height="11" fill="#fcbba1"/>
<rect x="306.8" y="501.5" width="101.5" height="11" fill="#fc9272"/>
<rect x="408.3" y="501.5" width="101.5" height="11" fill="#fb6a4a"/>
<rect x="509.8" y="501.5" width="101.5" height="11" fill="#ef3b2c"/>
<rect x="611.3" y="501.5" width="101.5" height="11" fill="#cb181d"/>
<rect x="712.8" y="501.5" width="100.7" height="11" fill="#99000d"/>
</g>
</svg>
<div class="t ft" style="top:534.8px"><b>Data source:</b> World Health Organization (2025)</div>
<div class="t ft" style="top:534.8px;left:auto;right:20.3px">OurWorldinData.org/eradication-of-diseases | CC BY</div>
<div class="t ft" style="top:554.6px"><b>Note:</b> Due to limited surveillance capacity, particularly during past outbreaks, the number of reported cases can be lower than the actual</div>
<div class="t ft" style="top:571px">number of infections.</div>
</body></html>
